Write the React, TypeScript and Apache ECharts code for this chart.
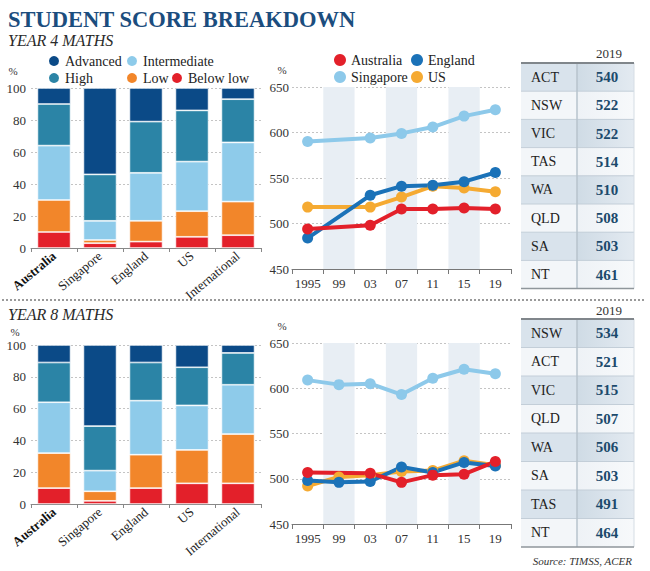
import React, { useEffect, useRef } from "react";
import * as echarts from "echarts";

// ---------- DATA ----------
const categories = ["Australia", "Singapore", "England", "US", "International"];
const levelNames = ["Advanced", "Intermediate", "High", "Low", "Below low"];

// Year 4 achievement levels (%)
const y4BelowLow = [10, 3, 4, 7, 8];
const y4Low = [20, 2, 13, 16, 21];
const y4Intermediate = [34, 12, 30, 31, 37];
const y4High = [26, 29, 32, 32, 27];
const y4Advanced = [10, 54, 21, 14, 7];

// Year 8 achievement levels (%)
const y8BelowLow = [10, 2, 10, 13, 13];
const y8Low = [22, 6, 21, 21, 31];
const y8Intermediate = [32, 13, 34, 28, 31];
const y8High = [25, 28, 24, 24, 20];
const y8Advanced = [11, 51, 11, 14, 5];

const barTicks = [0, 20, 40, 60, 80, 100];

// Trend scores
const years = ["1995", "99", "03", "07", "11", "15", "19"];
const y4Australia = [494, null, 498, 516, 516, 517, 516];
const y4England = [484, null, 531, 541, 542, 546, 556];
const y4Singapore = [590, null, 594, 599, 606, 618, 625];
const y4US = [518, null, 518, 529, 541, 539, 535];

const y8Australia = [507, null, 506, 496, 504, 505, 519];
const y8England = [498, 496, 497, 513, 507, 518, 514];
const y8Singapore = [609, 604, 605, 593, 611, 621, 616];
const y8US = [492, 502, 504, 508, 509, 520, 515];

const lineTicks = [450, 500, 550, 600, 650];

// State tables (2019)
const tableYear = "2019";
const y4Regions = ["ACT", "NSW", "VIC", "TAS", "WA", "QLD", "SA", "NT"];
const y4Scores = [540, 522, 522, 514, 510, 508, 503, 461];
const y8Regions = ["NSW", "ACT", "VIC", "QLD", "WA", "SA", "TAS", "NT"];
const y8Scores = [534, 521, 515, 507, 506, 503, 491, 464];

// ---------- STYLE ----------
const SERIF = "Liberation Serif, DejaVu Serif, serif";
const levelColors: Record<string, string> = {
  Advanced: "#0b4a87",
  Intermediate: "#8ecbea",
  High: "#2b84a6",
  Low: "#f2862a",
  "Below low": "#e3202a",
};
const lineColors: Record<string, string> = {
  Australia: "#e3202a",
  England: "#1b72b8",
  Singapore: "#8dc9ea",
  US: "#f5aa32",
};

export default function App() {
  const ref = useRef<HTMLDivElement>(null);

  useEffect(() => {
    document.body.style.margin = "0";
    const chart = echarts.init(ref.current!, undefined, { renderer: "svg" });

    const barGrids = [
      { left: 31, top: 88, width: 230, height: 160 },
      { left: 31, top: 345, width: 230, height: 159 },
    ];
    const lineGrids = [
      { left: 292, top: 87, width: 219, height: 182 },
      { left: 292, top: 343, width: 219, height: 181 },
    ];
    const grids = [...barGrids, ...lineGrids];

    const barX = (gi: number) => ({
      type: "category",
      gridIndex: gi,
      data: categories,
      axisLine: { lineStyle: { color: "#888", width: 1 } },
      axisTick: { show: true, length: 4, interval: 0, lineStyle: { color: "#888" } },
      axisLabel: {
        rotate: 40,
        margin: 6,
        fontFamily: SERIF,
        fontSize: 13,
        color: "#222",
        interval: 0,
        formatter: (v: string) => (v === "Australia" ? "{b|" + v + "}" : v),
        rich: { b: { fontWeight: "bold", fontFamily: SERIF, fontSize: 13, color: "#111" } },
      },
    });
    const barY = (gi: number) => ({
      type: "value",
      gridIndex: gi,
      min: barTicks[0],
      max: barTicks[barTicks.length - 1],
      interval: 20,
      axisLine: { show: false },
      axisTick: { show: false },
      axisLabel: { margin: 5, fontFamily: SERIF, fontSize: 13, color: "#333" },
      splitLine: { lineStyle: { color: "#c4c4c4", type: [2, 2] } },
    });
    const lineX = (gi: number) => ({
      type: "category",
      gridIndex: gi,
      data: years,
      boundaryGap: true,
      axisLine: { lineStyle: { color: "#777", width: 1 } },
      axisTick: { show: true, length: 5, interval: 0, lineStyle: { color: "#777" } },
      axisLabel: { margin: 8, interval: 0, fontFamily: SERIF, fontSize: 13, color: "#333" },
      splitArea: { show: true, interval: 0, areaStyle: { color: ["rgba(0,0,0,0)", "#e8eef4"] } },
    });
    const lineY = (gi: number) => ({
      type: "value",
      gridIndex: gi,
      min: lineTicks[0],
      max: lineTicks[lineTicks.length - 1],
      interval: 50,
      axisLine: { show: false },
      axisTick: { show: false },
      axisLabel: { margin: 3, fontFamily: SERIF, fontSize: 13, color: "#333" },
      splitLine: { lineStyle: { color: "#c4c4c4", type: [2, 2] } },
    });

    const y4Levels: Record<string, number[]> = {
      "Below low": y4BelowLow,
      Low: y4Low,
      Intermediate: y4Intermediate,
      High: y4High,
      Advanced: y4Advanced,
    };
    const y8Levels: Record<string, number[]> = {
      "Below low": y8BelowLow,
      Low: y8Low,
      Intermediate: y8Intermediate,
      High: y8High,
      Advanced: y8Advanced,
    };
    const stackOrder = ["Below low", "Low", "Intermediate", "High", "Advanced"];

    const barSeries: any[] = [];
    [y4Levels, y8Levels].forEach((lv, k) => {
      stackOrder.forEach((name) => {
        barSeries.push({
          type: "bar",
          name,
          xAxisIndex: k,
          yAxisIndex: k,
          stack: "s" + k,
          data: lv[name],
          barCategoryGap: "28%",
          itemStyle: { color: levelColors[name], borderColor: "#ffffff", borderWidth: 0.7 },
          emphasis: { disabled: true },
        });
      });
    });

    const y4Lines: Record<string, (number | null)[]> = {
      Singapore: y4Singapore,
      US: y4US,
      England: y4England,
      Australia: y4Australia,
    };
    const y8Lines: Record<string, (number | null)[]> = {
      Singapore: y8Singapore,
      US: y8US,
      England: y8England,
      Australia: y8Australia,
    };
    const lineSeries: any[] = [];
    [y4Lines, y8Lines].forEach((ls, k) => {
      Object.keys(ls).forEach((name) => {
        lineSeries.push({
          type: "line",
          name,
          xAxisIndex: 2 + k,
          yAxisIndex: 2 + k,
          data: ls[name],
          connectNulls: true,
          symbol: "circle",
          symbolSize: 11,
          showAllSymbol: true,
          lineStyle: { color: lineColors[name], width: 4 },
          itemStyle: { color: lineColors[name] },
          emphasis: { disabled: true },
        });
      });
    });

    const legendBase = {
      orient: "vertical",
      icon: "circle",
      itemWidth: 12,
      itemHeight: 12,
      itemGap: 1,
      padding: 0,
      selectedMode: false,
      textStyle: { fontFamily: SERIF, fontSize: 14, color: "#222", lineHeight: 16 },
    };
    const legends = [
      { ...legendBase, left: 47, top: 53, data: [levelNames[0], levelNames[2]] },
      { ...legendBase, left: 125, top: 53, data: [levelNames[1], levelNames[3]] },
      { ...legendBase, left: 170, top: 70, data: [levelNames[4]] },
      { ...legendBase, left: 334, top: 52, data: ["Australia", "Singapore"] },
      { ...legendBase, left: 411, top: 52, data: ["England", "US"] },
    ];

    const buildTable = (regions: string[], scores: number[], top: number, rowH: number, headerY: number) => {
      const els: any[] = [];
      const x0 = 521;
      const w = 113;
      const divX = 577;
      els.push({
        type: "text",
        x: 609,
        y: headerY,
        style: { text: tableYear, font: `13px ${SERIF}`, fill: "#333", align: "center", verticalAlign: "middle" },
      });
      regions.forEach((r, i) => {
        const y = top + i * rowH;
        els.push({
          type: "rect",
          shape: { x: x0, y, width: w, height: rowH },
          style: { fill: i % 2 === 0 ? "#d9e3ec" : "#f3f6f9" },
        });
        els.push({
          type: "rect",
          shape: { x: divX, y, width: w - (divX - x0), height: rowH },
          style: {
            fill: {
              type: "linear",
              x: 0,
              y: 0,
              x2: 1,
              y2: 0,
              colorStops:
                i % 2 === 0
                  ? [
                      { offset: 0, color: "#cfdbe5" },
                      { offset: 1, color: "#e3eaf1" },
                    ]
                  : [
                      { offset: 0, color: "#eef2f6" },
                      { offset: 1, color: "#f7f9fb" },
                    ],
            },
          },
        });
        els.push({
          type: "text",
          x: 531,
          y: y + rowH / 2,
          style: { text: r, font: `14px ${SERIF}`, fill: "#222", align: "left", verticalAlign: "middle" },
        });
        els.push({
          type: "text",
          x: 607,
          y: y + rowH / 2,
          style: {
            text: String(scores[i]),
            font: `bold 15px ${SERIF}`,
            fill: "#1c4a6c",
            align: "center",
            verticalAlign: "middle",
          },
        });
        if (i > 0) {
          els.push({
            type: "line",
            shape: { x1: x0, y1: y, x2: x0 + w, y2: y },
            style: { stroke: "#c3ced8", lineWidth: 1 },
          });
        }
      });
      const bottom = top + regions.length * rowH;
      els.push({
        type: "line",
        shape: { x1: divX, y1: top, x2: divX, y2: bottom },
        style: { stroke: "#b7c3cd", lineWidth: 1.5 },
      });
      els.push({
        type: "line",
        shape: { x1: x0 + w, y1: top, x2: x0 + w, y2: bottom },
        style: { stroke: "#d5dde4", lineWidth: 1 },
      });
      els.push({
        type: "line",
        shape: { x1: x0, y1: top, x2: x0 + w, y2: top },
        style: { stroke: "#80868b", lineWidth: 2 },
      });
      els.push({
        type: "line",
        shape: { x1: x0, y1: bottom, x2: x0 + w, y2: bottom },
        style: { stroke: "#8f969b", lineWidth: 1.5 },
      });
      return els;
    };

    const graphic: any[] = [
      {
        type: "text",
        x: 8,
        y: 19,
        style: {
          text: "STUDENT SCORE BREAKDOWN",
          font: `bold 22.5px ${SERIF}`,
          fill: "#1b4d7e",
          align: "left",
          verticalAlign: "middle",
        },
      },
      {
        type: "text",
        x: 8,
        y: 40,
        style: { text: "YEAR 4 MATHS", font: `italic 16px ${SERIF}`, fill: "#2a2a2a", align: "left", verticalAlign: "middle" },
      },
      {
        type: "text",
        x: 8,
        y: 314,
        style: { text: "YEAR 8 MATHS", font: `italic 16px ${SERIF}`, fill: "#2a2a2a", align: "left", verticalAlign: "middle" },
      },
      {
        type: "text",
        x: 13,
        y: 71,
        style: { text: "%", font: `11px ${SERIF}`, fill: "#333", align: "center", verticalAlign: "middle" },
      },
      {
        type: "text",
        x: 282,
        y: 70,
        style: { text: "%", font: `11px ${SERIF}`, fill: "#333", align: "center", verticalAlign: "middle" },
      },
      {
        type: "text",
        x: 15,
        y: 332,
        style: { text: "%", font: `11px ${SERIF}`, fill: "#333", align: "center", verticalAlign: "middle" },
      },
      {
        type: "text",
        x: 282,
        y: 326,
        style: { text: "%", font: `11px ${SERIF}`, fill: "#333", align: "center", verticalAlign: "middle" },
      },
      {
        type: "line",
        shape: { x1: 2, y1: 300, x2: 646, y2: 300 },
        style: { stroke: "#9a9a9a", lineWidth: 2, lineDash: [2, 2] },
      },
      ...buildTable(y4Regions, y4Scores, 63, 28.2, 53),
      ...buildTable(y8Regions, y8Scores, 319, 28.5, 310),
      {
        type: "text",
        x: 632,
        y: 561,
        style: {
          text: "Source: TIMSS, ACER",
          font: `italic 11px ${SERIF}`,
          fill: "#333",
          align: "right",
          verticalAlign: "middle",
        },
      },
    ];

    chart.setOption({
      animation: false,
      backgroundColor: "#ffffff",
      textStyle: { fontFamily: SERIF },
      grid: grids,
      xAxis: [barX(0), barX(1), lineX(2), lineX(3)],
      yAxis: [barY(0), barY(1), lineY(2), lineY(3)],
      legend: legends,
      series: [...barSeries, ...lineSeries],
      graphic,
    });

    return () => chart.dispose();
  }, []);

  return <div ref={ref} style={{ width: 650, height: 571 }} />;
}
